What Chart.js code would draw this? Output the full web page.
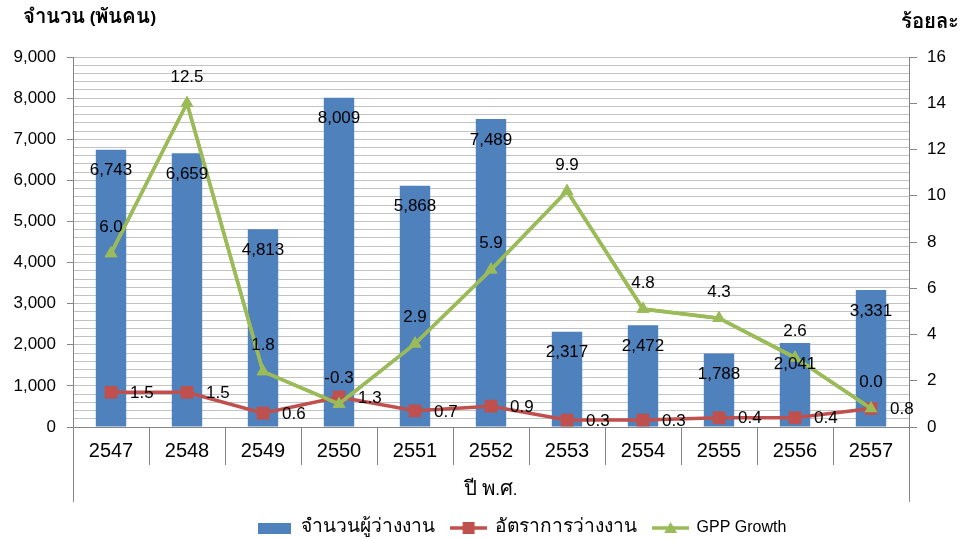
<!DOCTYPE html>
<html><head><meta charset="utf-8">
<script src="https://cdn.jsdelivr.net/npm/chart.js@4.4.1/dist/chart.umd.min.js"></script>
<style>html,body{margin:0;padding:0;background:#fff;}#wrap{width:963px;height:539px;}</style>
</head><body><div id="wrap"><canvas id="c" width="963" height="539"></canvas></div>
<script>
// ---- data ----
const years = ['2547','2548','2549','2550','2551','2552','2553','2554','2555','2556','2557'];
const unemployed = [6743,6659,4813,8009,5868,7489,2317,2472,1788,2041,3331];
const unemploymentRate = [1.5,1.5,0.6,1.3,0.7,0.9,0.3,0.3,0.4,0.4,0.8];
const gppGrowth = [6.0,12.5,1.8,-0.3,2.9,5.9,9.9,4.8,4.3,2.6,0.0];
const seriesNames = ['จำนวนผู้ว่างงาน','อัตราการว่างงาน','GPP Growth'];
const leftAxisTitle = 'จำนวน (พันคน)';
const rightAxisTitle = 'ร้อยละ';
const xAxisTitle = 'ปี พ.ศ.';
const leftAxisRange = [0, 9000];
const rightAxisRange = [0, 16];

// ---- style ----
const FONT = "'Liberation Sans', ThaiBig, Loma, 'Noto Sans Thai', sans-serif";
const BLUE = '#4F81BD', RED = '#C0504D', GREEN = '#9BBB59';
const AXIS = '#868686', GRID = '#c3c3c3';

function icon(kind){
  const cv = document.createElement('canvas');
  const w = kind === 'bar' ? 33 : 37, h = 14;
  cv.width = w; cv.height = h;
  const c = cv.getContext('2d');
  if (kind === 'bar') { c.fillStyle = BLUE; c.fillRect(0, 2, 33, 11); return cv; }
  const col = kind === 'red' ? RED : GREEN;
  c.strokeStyle = col; c.lineWidth = 3.5;
  c.beginPath(); c.moveTo(0, 7); c.lineTo(w, 7); c.stroke();
  c.fillStyle = col;
  if (kind === 'red') { c.fillRect(w/2 - 6, 1, 12, 12); }
  else { c.beginPath(); c.moveTo(w/2, 1); c.lineTo(w/2 + 6.5, 12); c.lineTo(w/2 - 6.5, 12); c.closePath(); c.fill(); }
  return cv;
}

const fmt = v => v.toLocaleString('en-US');

const extras = {
  id: 'extras',
  beforeDraw(chart) {
    const lg = chart.legend;
    if (lg) { lg.left = 80; }
  },
  afterDatasetsDraw(chart) {
    const ctx = chart.ctx;
    const gMeta = chart.getDatasetMeta(2);
    ctx.save();
    gMeta.controller.draw();   // green series on top of the red one
    ctx.restore();

    ctx.save();
    ctx.fillStyle = '#000';
    ctx.font = '17px ' + FONT;
    ctx.textBaseline = 'middle';
    ctx.textAlign = 'center';
    chart.getDatasetMeta(0).data.forEach((el, i) => ctx.fillText(fmt(unemployed[i]), el.x, el.y + 21));
    ctx.textAlign = 'left';
    chart.getDatasetMeta(1).data.forEach((el, i) => ctx.fillText(unemploymentRate[i].toFixed(1), el.x + 19, el.y + 1));
    ctx.textAlign = 'center';
    gMeta.data.forEach((el, i) => ctx.fillText(gppGrowth[i].toFixed(1), el.x, el.y - 26));
    ctx.restore();
  },
  afterDraw(chart) {
    const ctx = chart.ctx, a = chart.chartArea;
    ctx.save();
    ctx.strokeStyle = AXIS; ctx.lineWidth = 1;
    ctx.beginPath();
    ctx.moveTo(Math.round(a.left) + 0.5, a.bottom); ctx.lineTo(Math.round(a.left) + 0.5, 502);
    ctx.moveTo(Math.round(a.right) + 0.5, a.bottom); ctx.lineTo(Math.round(a.right) + 0.5, 502);
    ctx.stroke();
    ctx.fillStyle = '#000';
    ctx.font = 'bold 17px ' + FONT;
    ctx.textBaseline = 'middle';
    ctx.textAlign = 'left';
    ctx.fillText(leftAxisTitle, 23, 18);
    ctx.textAlign = 'right';
    ctx.fillText(rightAxisTitle, 959, 23);
    ctx.font = '17px ' + FONT;
    ctx.textAlign = 'center';
    ctx.fillText(xAxisTitle, (a.left + a.right) / 2, 490);
    ctx.restore();
  }
};

let started = false;
function start() {
  if (started) return; started = true;
  const legendIcons = [icon('bar'), icon('red'), icon('green')];
  new Chart(document.getElementById('c'), {
    data: {
      labels: years,
      datasets: [
        { type: 'bar', label: seriesNames[0], data: unemployed, backgroundColor: BLUE, yAxisID: 'y', order: 2,
          barPercentage: 0.4, categoryPercentage: 1.0 },
        { type: 'line', label: seriesNames[1], data: unemploymentRate, yAxisID: 'y1', stack: 'rate', order: 0,
          borderColor: RED, backgroundColor: RED, borderWidth: 3.5, pointStyle: 'rect', pointRadius: 9,
          pointBorderWidth: 0, tension: 0, fill: false },
        { type: 'line', label: seriesNames[2], data: gppGrowth, yAxisID: 'y1', stack: 'rate', order: 1,
          borderColor: GREEN, backgroundColor: GREEN, borderWidth: 3.5, pointStyle: 'triangle', pointRadius: 7.5,
          pointBorderWidth: 0, tension: 0, fill: false }
      ]
    },
    options: {
      responsive: false, animation: false, devicePixelRatio: 1,
      layout: { padding: { top: 57, left: 0, right: 0, bottom: -7 } },
      plugins: {
        tooltip: { enabled: false },
        legend: {
          position: 'bottom',
          labels: {
            usePointStyle: true, pointStyleWidth: 36, padding: 16, color: '#000',
            font: { family: FONT, size: 16 },
            sort: (a, b) => a.datasetIndex - b.datasetIndex,
            generateLabels(chart) {
              const items = Chart.defaults.plugins.legend.labels.generateLabels(chart);
              items.forEach(it => { it.pointStyle = legendIcons[it.datasetIndex]; });
              return items;
            }
          }
        }
      },
      scales: {
        x: {
          type: 'category', offset: true,
          grid: { offset: true, drawOnChartArea: false, tickLength: 38, color: AXIS, tickColor: AXIS },
          border: { color: AXIS },
          ticks: { font: { family: FONT, size: 20 }, color: '#000', padding: -26, maxRotation: 0, autoSkip: false },
          afterFit(s) { s.height = 77; }
        },
        y: {
          position: 'left', min: leftAxisRange[0], max: leftAxisRange[1],
          grid: { color: GRID, tickLength: 6,
            tickColor: c => (c.tick && c.tick.value % 1000 === 0) ? AXIS : 'rgba(0,0,0,0)' },
          border: { color: AXIS },
          ticks: { stepSize: 200, autoSkip: false, padding: 11, color: '#000', font: { family: FONT, size: 17 },
            callback: v => v % 1000 === 0 ? fmt(v) : '' },
          afterFit(s) { s.width = 73; }
        },
        y1: {
          position: 'right', min: rightAxisRange[0], max: rightAxisRange[1], stacked: 'single',
          grid: { drawOnChartArea: false, tickLength: 8, color: AXIS, tickColor: AXIS },
          border: { color: AXIS },
          ticks: { stepSize: 2, padding: 10, color: '#000', font: { family: FONT, size: 17 } },
          afterFit(s) { s.width = 54; }
        }
      }
    },
    plugins: [extras]
  });
}

try {
  const faces = [
    new FontFace('ThaiBig', "local('Loma')", { unicodeRange: 'U+0E00-0E7F', sizeAdjust: '120%', weight: 'normal' }),
    new FontFace('ThaiBig', "local('Loma Bold'), local('Loma-Bold')", { unicodeRange: 'U+0E00-0E7F', sizeAdjust: '120%', weight: 'bold' })
  ];
  Promise.allSettled(faces.map(f => f.load().then(ff => { document.fonts.add(ff); }))).then(start, start);
  setTimeout(start, 1500);
} catch (e) { start(); }
</script></body></html>
